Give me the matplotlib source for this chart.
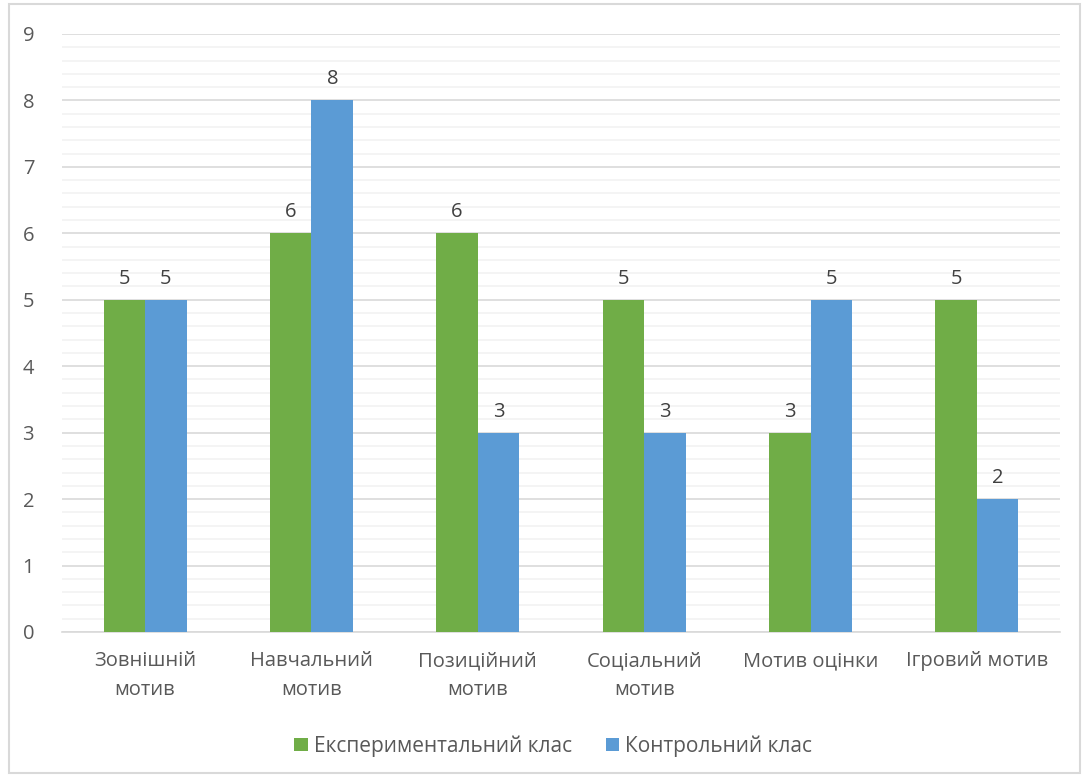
import numpy as np
import matplotlib.pyplot as plt
from matplotlib.patches import Rectangle
from matplotlib.ticker import MultipleLocator

plt.rcParams['font.family'] = ['Open Sans', 'DejaVu Sans']

categories = ['Зовнішній\nмотив', 'Навчальний\nмотив', 'Позиційний\nмотив',
              'Соціальний\nмотив', 'Мотив оцінки', 'Ігровий мотив']
exp_vals = [5, 6, 6, 5, 3, 5]
ctrl_vals = [5, 8, 3, 3, 5, 2]
series_names = ['Експериментальний клас', 'Контрольний клас']

green = '#70AD47'
blue = '#5B9BD5'
txt = '#595959'

fig = plt.figure(figsize=(10.83, 7.78), dpi=100)
fig.patches.append(Rectangle((0.008, 0.006), 0.989, 0.989, transform=fig.transFigure,
                             fill=False, edgecolor='#D9D9D9', lw=1.5))
ax = fig.add_axes([0.0572, 0.1877, 0.9216, 0.7686])

x = np.arange(len(categories))
w = 0.25
b1 = ax.bar(x - w / 2, exp_vals, w, color=green, label=series_names[0], zorder=3)
b2 = ax.bar(x + w / 2, ctrl_vals, w, color=blue, label=series_names[1], zorder=3)
for bars in (b1, b2):
    ax.bar_label(bars, padding=8, fontsize=14.5, color='#404040')

ax.set_xlim(-0.5, len(categories) - 0.5)
ax.set_ylim(0, 9)
ax.yaxis.set_major_locator(MultipleLocator(1))
ax.yaxis.set_minor_locator(MultipleLocator(0.2))
ax.grid(axis='y', which='major', color='#D9D9D9', lw=1.2, zorder=0)
ax.grid(axis='y', which='minor', color='#F2F2F2', lw=1.2, zorder=0)
for s in ['top', 'right', 'left']:
    ax.spines[s].set_visible(False)
ax.spines['bottom'].set_color('#D9D9D9')
ax.spines['bottom'].set_linewidth(1.2)
ax.tick_params(axis='both', which='both', length=0, labelsize=14.5, labelcolor=txt)
ax.tick_params(axis='y', pad=20)
ax.tick_params(axis='x', pad=14)
ax.set_xticks(x)
ax.set_xticklabels(categories, linespacing=1.6)

leg = fig.legend(loc='center', bbox_to_anchor=(0.511, 0.041), ncol=2, frameon=False,
                 fontsize=15, handlelength=0.65, handleheight=0.65, columnspacing=1.6,
                 handletextpad=0.3)
for t in leg.get_texts():
    t.set_color(txt)

fig.savefig('out.png', dpi=100)
